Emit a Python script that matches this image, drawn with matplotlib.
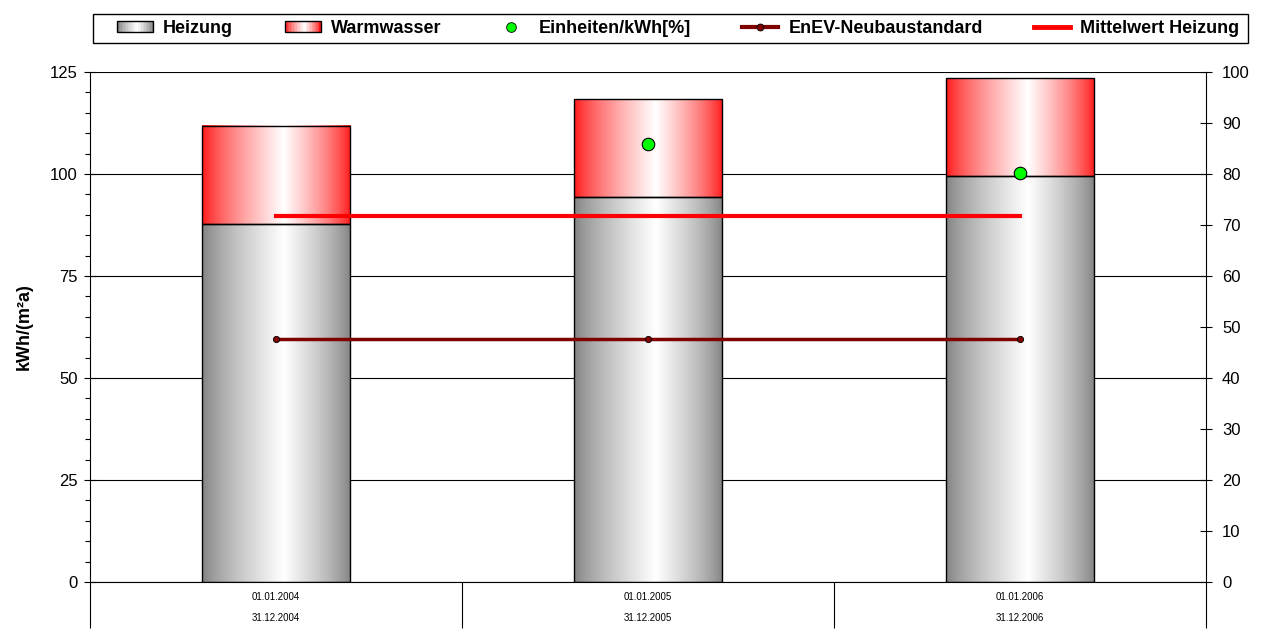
import numpy as np
import matplotlib.pyplot as plt
from matplotlib.patches import Rectangle
from matplotlib.lines import Line2D
from matplotlib.legend_handler import HandlerBase
from matplotlib.ticker import MultipleLocator

plt.rcParams['font.family'] = ['Liberation Sans', 'DejaVu Sans']

# Verbrauchswerte je Abrechnungszeitraum
zeitraum_von = ["01.01.2004", "01.01.2005", "01.01.2006"]
zeitraum_bis = ["31.12.2004", "31.12.2005", "31.12.2006"]
heizung = [87.7, 94.4, 99.5]            # kWh/(m²a)
warmwasser = [24.1, 24.0, 24.0]         # kWh/(m²a)
einheiten = [np.nan, 85.9, 80.2]        # Einheiten/kWh [%], rechte Achse
enev = [59.6, 59.6, 59.6]               # EnEV-Neubaustandard
mittelwert = [89.7, 89.7, 89.7]         # Mittelwert Heizung

GRAU = (0.50, 0.50, 0.50)
ROT = (1.0, 0.08, 0.08)
BREITE = 0.40


def verlauf(rgb, n=256, mitte=0.55):
    t = np.linspace(0, 1, n)
    w = np.where(t < mitte, t / mitte, (1 - t) / (1 - mitte)) ** 0.75
    rgb = np.array(rgb)
    return rgb[None, :] + (1 - rgb[None, :]) * w[:, None]


class VerlaufHandler(HandlerBase):
    def __init__(self, rgb):
        super().__init__()
        self.rgb = rgb

    def create_artists(self, legend, orig_handle, xdescent, ydescent,
                       width, height, fontsize, trans):
        farben = verlauf(self.rgb, 24)
        n = len(farben)
        teile = []
        for k, f in enumerate(farben):
            teile.append(Rectangle((-xdescent + width * k / n, -ydescent), width / n + 0.3, height,
                                   facecolor=f, edgecolor='none', transform=trans))
        teile.append(Rectangle((-xdescent, -ydescent), width, height, facecolor='none',
                               edgecolor='black', lw=1, transform=trans))
        return teile


fig = plt.figure(figsize=(12.65, 6.38), dpi=100)
ax = fig.add_axes([0.0711, 0.0878, 0.8823, 0.7993])
ax2 = ax.twinx()

x = np.arange(len(heizung))

def gradient_balken(xc, unten, hoehe, rgb):
    bild = verlauf(rgb)[None, :, :]
    ax.imshow(bild, extent=(xc - BREITE / 2, xc + BREITE / 2, unten, unten + hoehe),
              aspect='auto', interpolation='bilinear', zorder=2)
    ax.add_patch(Rectangle((xc - BREITE / 2, unten), BREITE, hoehe, facecolor='none',
                           edgecolor='black', lw=1, zorder=3))

for i in x:
    gradient_balken(i, 0, heizung[i], GRAU)
    gradient_balken(i, heizung[i], warmwasser[i], ROT)

ax.plot(x, enev, color='#800000', lw=2.5, marker='o', markersize=4.5,
        markerfacecolor='#800000', markeredgecolor='black', markeredgewidth=0.6, zorder=4)
ax.plot(x, mittelwert, color='#ff0000', lw=3, zorder=4)
ax2.plot(x, einheiten, linestyle='none', marker='o', markersize=9,
         markerfacecolor='#00ff00', markeredgecolor='black', markeredgewidth=0.8, zorder=5)

ax.set_xlim(-0.5, 2.5)
ax.set_ylim(0, 125)
ax2.set_ylim(0, 100)

ax.set_yticks(np.arange(0, 126, 25))
ax.yaxis.set_minor_locator(MultipleLocator(5))
ax2.set_yticks(np.arange(0, 101, 10))
ax.tick_params(axis='y', which='major', direction='inout', length=8, width=0.8, labelsize=12, pad=5)
ax.tick_params(axis='y', which='minor', direction='out', length=3.5, width=0.8)
ax2.tick_params(axis='y', which='major', direction='inout', length=9, width=0.8, labelsize=12, pad=7)

ax.yaxis.grid(True, which='major', color='black', lw=0.8)
ax.set_axisbelow(True)

# Kategorieachse mit Trennstrichen und zweizeiligen Zeiträumen
ax.set_xticks([-0.5, 0.5, 1.5, 2.5])
ax.set_xticklabels([])
ax.tick_params(axis='x', direction='out', length=33, width=0.8)
for i in x:
    ax.annotate(zeitraum_von[i], (i, 0), xycoords=('data', 'axes fraction'),
                xytext=(0, -11), textcoords='offset points', ha='center', va='center', fontsize=7)
    ax.annotate(zeitraum_bis[i], (i, 0), xycoords=('data', 'axes fraction'),
                xytext=(0, -26), textcoords='offset points', ha='center', va='center', fontsize=7)

for a in (ax, ax2):
    a.spines['top'].set_visible(False)
    for s in a.spines.values():
        s.set_linewidth(0.8)
ax.spines['right'].set_visible(False)
ax2.spines['left'].set_visible(False)
ax2.spines['bottom'].set_visible(False)

ax.set_ylabel('kWh/(m²a)', fontsize=13, fontweight='bold')
ax.yaxis.set_label_coords(-0.051, 0.5)

# Legende: Rahmen separat, Einträge ohne eigenen Rahmen
fig.patches.append(Rectangle((93 / 1265, 1 - 43 / 638), 1155 / 1265, 29 / 638,
                             transform=fig.transFigure, facecolor='white',
                             edgecolor='black', lw=1.0, zorder=0))
h_heiz = Rectangle((0, 0), 1, 1)
h_ww = Rectangle((0, 0), 1, 1)
h_einh = Line2D([], [], linestyle='none', marker='o', markersize=7,
                markerfacecolor='#00ff00', markeredgecolor='black', markeredgewidth=0.6)
h_enev = Line2D([], [], color='#800000', lw=3, marker='o', markersize=5,
                markerfacecolor='#800000', markeredgecolor='black', markeredgewidth=0.6)
h_mw = Line2D([], [], color='#ff0000', lw=3.5)
leg = fig.legend([h_heiz, h_ww, h_einh, h_enev, h_mw],
                 ['Heizung', 'Warmwasser', 'Einheiten/kWh[%]', 'EnEV-Neubaustandard', 'Mittelwert Heizung'],
                 handler_map={h_heiz: VerlaufHandler(GRAU), h_ww: VerlaufHandler(ROT)},
                 loc='center left', bbox_to_anchor=(117 / 1265, 1 - 28.5 / 638),
                 ncol=5, frameon=False, prop={'weight': 'bold', 'size': 13},
                 handlelength=2.0, handleheight=0.6, handletextpad=0.55,
                 columnspacing=2.85, borderaxespad=0, borderpad=0)

fig.savefig('out.png', dpi=100)
